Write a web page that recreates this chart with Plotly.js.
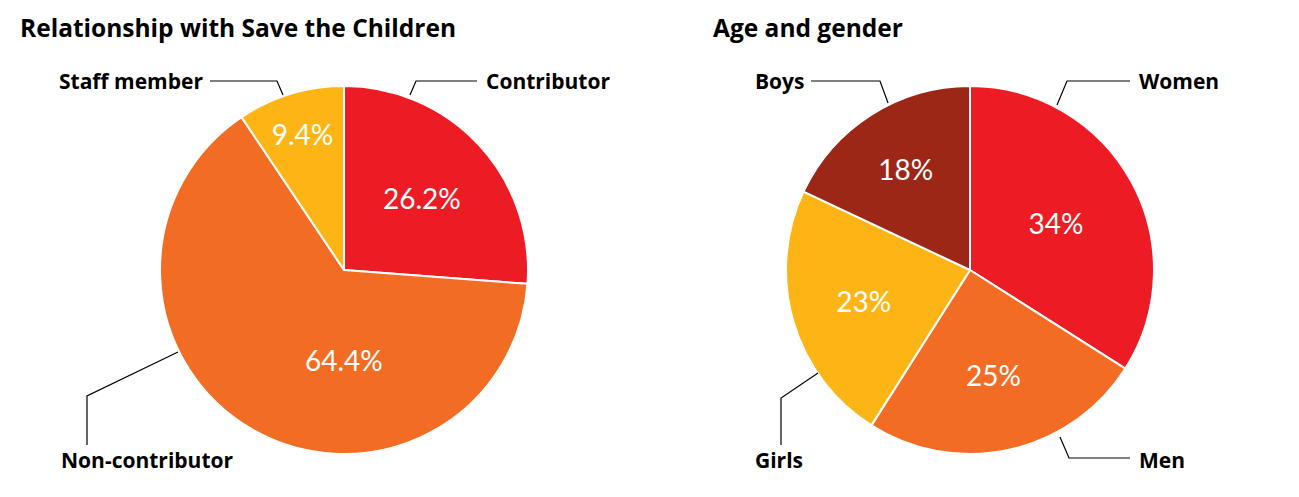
<!DOCTYPE html>
<html>
<head>
<meta charset="utf-8">
<script src="https://cdn.plot.ly/plotly-3.0.1.min.js"></script>
<style>html,body{margin:0;padding:0;background:#fff}#chart{width:1299px;height:497px}</style>
</head>
<body>
<div id="chart"></div>
<script>
// Data
const relCategories = ["Contributor", "Non-contributor", "Staff member"];
const relValues = [26.2, 64.4, 9.4];
const ageCategories = ["Women", "Men", "Girls", "Boys"];
const ageValues = [34, 25, 23, 18];
const titles = ["Relationship with Save the Children", "Age and gender"];

const RED = "#ED1C24", ORANGE = "#F26C24", YELLOW = "#FDB515", DARKRED = "#9D2717";
const W = 1299, H = 497;
const px = x => x / W, py = y => 1 - y / H;

const pctFont = {family: "Lato, 'Open Sans', sans-serif", size: 28, color: "#fff"};

// pie boxes in pixels
const pie1 = {l: 160, r: 528, t: 86, b: 454};
const pie2 = {l: 786, r: 1154, t: 86, b: 454};

const trace1 = {
  type: "pie", labels: relCategories, values: relValues, sort: false,
  direction: "clockwise", rotation: 0,
  marker: {colors: [RED, ORANGE, YELLOW], line: {color: "#fff", width: 2}},
  texttemplate: "%{value}%", textposition: ["inside", "none", "inside"], insidetextorientation: "horizontal",
  textfont: pctFont, hoverinfo: "label+value", showlegend: false,
  domain: {x: [px(pie1.l), px(pie1.r)], y: [py(pie1.b), py(pie1.t)]}
};
const trace2 = {
  type: "pie", labels: ageCategories, values: ageValues, sort: false,
  direction: "clockwise", rotation: 0,
  marker: {colors: [RED, ORANGE, YELLOW, DARKRED], line: {color: "#fff", width: 2}},
  texttemplate: "%{value}%", textposition: "inside", insidetextorientation: "horizontal",
  textfont: pctFont, hoverinfo: "label+value", showlegend: false,
  domain: {x: [px(pie2.l), px(pie2.r)], y: [py(pie2.b), py(pie2.t)]}
};

// leader lines (pixel positions of the callouts)
const leaders = [
  [[410,95],[416,81],[477,81]],
  [[210,81],[277,81],[283,95]],
  [[178,352],[87,396],[87,445]],
  [[1057,105],[1067,81],[1130,81]],
  [[811,81],[880,81],[888,103]],
  [[818,373],[781,398],[781,445]],
  [[1060,437],[1069,458],[1130,458]]
];
const shapes = leaders.map(pts => ({
  type: "path", xref: "paper", yref: "paper",
  path: pts.map((p, i) => (i ? "L" : "M") + px(p[0]) + "," + py(p[1])).join(" "),
  line: {color: "#000", width: 1.2}
}));

const labFont = {family: "'Open Sans', sans-serif", size: 21, color: "#000"};
const labelPos = [
  [relCategories[0], 484, 81, "left"],
  [relCategories[2], 205, 81, "right"],
  [relCategories[1], 59, 460, "left"],
  [ageCategories[0], 1137, 81, "left"],
  [ageCategories[3], 753, 81, "left"],
  [ageCategories[2], 753, 460, "left"],
  [ageCategories[1], 1137, 460, "left"]
];
const annotations = labelPos.map(l => ({
  text: "<b>" + l[0] + "</b>", x: px(l[1]), y: py(l[2]), xref: "paper", yref: "paper",
  xanchor: l[3], yanchor: "middle", showarrow: false, font: labFont
}));
const titleFont = {family: "'Open Sans', sans-serif", size: 24.5, color: "#000"};
annotations.push({text: "<b>" + titles[0] + "</b>", x: px(18), y: py(27), xref: "paper", yref: "paper",
  xanchor: "left", yanchor: "middle", showarrow: false, font: titleFont});
annotations.push({text: "<b>" + titles[1] + "</b>", x: px(711), y: py(27), xref: "paper", yref: "paper",
  xanchor: "left", yanchor: "middle", showarrow: false, font: titleFont});

// value label of the large slice, placed below the pie centre
const c1x = (pie1.l + pie1.r) / 2, c1y = (pie1.t + pie1.b) / 2, r1 = (pie1.b - pie1.t) / 2;
annotations.push({text: relValues[1] + "%", x: px(c1x), y: py(c1y + 0.49 * r1), xref: "paper", yref: "paper",
  xanchor: "center", yanchor: "middle", showarrow: false, font: pctFont});

Plotly.newPlot("chart", [trace1, trace2], {
  width: W, height: H, margin: {l: 0, r: 0, t: 0, b: 0},
  paper_bgcolor: "#fff", plot_bgcolor: "#fff",
  shapes: shapes, annotations: annotations, showlegend: false
}, {displayModeBar: false, staticPlot: true});
</script>
</body>
</html>
